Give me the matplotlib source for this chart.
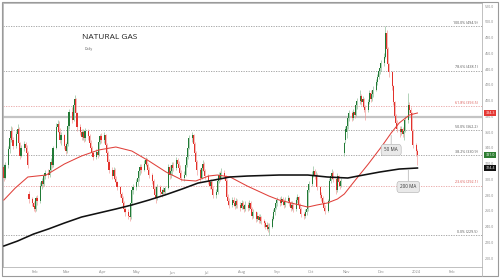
import matplotlib
matplotlib.use("Agg")
import matplotlib.pyplot as plt
import matplotlib.dates as mdates
import matplotlib.transforms as mtransforms
from matplotlib.patches import Rectangle
from matplotlib.lines import Line2D
import numpy as np
import pandas as pd

plt.rcParams['font.family'] = ['Open Sans', 'DejaVu Sans']

# ---------------- data ----------------
dates = pd.bdate_range("2023-01-05", "2024-01-02")

opens = [
    316,302,318,338,352,362,350,342,358,364,346,330,340,345,340,334,282,275,270,  # Jan
    266,262,276,272,292,298,294,304,308,305,312,322,318,340,366,370,360,350,356,342,  # Feb
    336,345,368,386,376,394,402,384,366,360,354,360,352,361,355,346,340,333,329,335,331,348,355,  # Mar
    350,356,344,334,322,312,304,312,300,296,290,282,276,270,262,258,254,252,270,286,  # Apr
    290,296,302,310,316,312,320,325,318,312,306,298,288,280,276,290,284,282,286,284,289,316,305,  # May
    310,318,315,324,320,314,308,302,306,318,328,340,352,356,345,334,322,312,302,315,320,310,  # Jun
    304,298,292,296,288,280,284,298,305,302,308,304,298,278,272,268,274,270,266,272,268,  # Jul
    264,270,266,262,268,264,270,262,254,258,250,254,248,252,247,244,240,242,237,240,250,258,264,  # Aug
    270,274,270,275,271,268,273,276,270,264,268,262,274,277,268,262,256,253,258,262,286,  # Sep
    294,306,310,304,306,290,280,276,270,264,260,272,298,304,308,300,286,304,296,292,334,350,  # Oct
    360,368,378,384,378,386,382,394,400,406,398,402,392,388,398,410,402,408,414,424,430,438,  # Nov
    442,448,456,486,466,446,436,418,398,380,372,364,360,364,358,362,376,394,388,384,362,344,336,  # Dec/Jan
]
highs = [
    320,322,342,356,368,366,354,362,370,366,348,344,349,348,344,336,285,278,272,
    270,279,280,296,302,301,308,312,313,316,327,326,343,372,376,374,365,360,358,348,
    349,372,390,392,398,407,404,386,370,364,364,362,365,364,357,350,342,336,339,338,352,358,359,
    360,358,346,336,326,316,316,314,304,298,292,284,279,272,265,262,257,274,290,294,
    300,306,314,320,319,324,329,327,321,316,308,300,292,284,294,293,288,290,289,292,320,318,314,
    322,322,328,327,323,318,312,310,322,332,344,356,360,358,348,336,325,314,319,324,322,313,
    307,301,300,298,291,288,302,309,310,314,312,306,300,281,276,278,278,273,276,275,271,
    274,273,269,272,271,274,272,265,262,260,258,256,256,254,250,247,246,245,244,254,262,268,274,
    278,277,279,278,275,277,280,278,272,272,270,278,281,279,270,265,259,262,265,290,298,
    310,317,313,311,308,292,284,279,273,267,275,302,308,313,310,302,308,306,299,302,348,368,
    372,382,388,387,390,389,398,404,414,409,406,404,395,402,414,413,412,418,428,434,442,446,
    452,460,494.9,490,468,448,438,420,400,383,376,368,368,367,366,380,410,398,392,386,364,346,338,
]
lows = [
    298,300,315,334,348,346,338,340,354,342,326,328,336,336,330,315,270,266,260,
    258,260,268,270,288,290,292,300,302,303,310,314,316,338,360,356,346,344,338,332,
    333,343,364,372,374,390,380,362,356,350,350,348,349,350,342,336,330,325,326,327,330,345,346,
    346,340,330,318,308,300,300,296,292,286,278,272,266,258,254,250,247,250,268,282,
    286,292,298,306,308,310,317,314,308,302,294,284,276,270,274,280,278,280,281,282,288,300,302,
    306,311,312,316,310,304,298,298,304,316,326,338,348,341,330,318,306,296,300,310,306,300,
    294,288,288,284,276,276,282,295,298,300,300,294,274,268,264,265,266,262,264,264,260,
    262,262,258,260,260,261,258,250,251,246,247,244,245,243,240,237,236,233,229.5,238,248,255,262,
    266,266,267,267,264,265,270,266,260,261,258,260,270,264,258,252,249,251,255,260,284,
    292,303,300,300,286,276,272,266,260,256,258,270,295,300,296,282,284,292,288,290,330,346,
    352,364,374,374,375,378,380,390,396,394,392,386,375,386,396,398,400,405,412,420,428,434,
    438,444,454,462,442,430,414,394,376,366,360,354,356,354,350,360,372,384,378,358,340,330,318,
]
closes = [
    302,318,338,352,362,350,342,358,364,346,330,340,345,340,334,318,275,270,265,
    262,276,272,292,298,294,304,308,305,312,322,318,340,366,370,360,350,356,342,336,
    345,368,386,376,394,402,384,366,360,354,360,352,361,355,346,340,333,329,335,331,348,355,350,
    356,344,334,322,312,304,312,300,296,290,282,276,270,262,258,254,252,270,286,290,
    296,302,310,316,312,320,325,318,312,306,298,288,280,276,290,284,282,286,284,289,316,305,310,
    318,315,324,320,314,308,302,306,318,328,340,352,356,345,334,322,312,302,315,320,310,304,
    298,292,296,288,280,284,298,305,302,308,304,298,278,272,268,274,270,266,272,268,264,
    270,266,262,268,264,270,262,254,258,250,254,248,252,247,244,240,242,237,240,250,258,264,270,
    274,270,275,271,268,273,276,270,264,268,262,274,277,268,262,256,253,258,262,286,294,
    306,310,304,306,290,280,276,270,264,260,272,298,304,308,300,286,304,296,292,298,346,364,
    368,378,384,378,386,382,394,400,406,398,402,392,388,398,410,402,408,414,424,430,438,442,
    448,456,486,466,446,436,418,398,380,372,364,360,364,358,362,376,394,388,384,362,344,336,331,
]

ma50_dates = ["2023-01-05","2023-01-15","2023-01-26","2023-02-11","2023-02-27","2023-03-14",
              "2023-03-29","2023-04-13","2023-04-27","2023-05-12","2023-05-27","2023-06-10",
              "2023-06-22","2023-07-03","2023-07-11","2023-07-22","2023-08-06","2023-08-25",
              "2023-09-03","2023-09-17","2023-09-28","2023-10-06","2023-10-15","2023-10-24",
              "2023-10-30","2023-11-08","2023-11-20","2023-12-02","2023-12-10","2023-12-17",
              "2023-12-26","2024-01-02"]
ma50 = [273.7,289.0,303.0,305.5,319.5,329.7,337.3,341.1,336.0,323.3,309.3,299.2,
        297.9,304.2,305.5,303.0,291.5,278.8,273.7,268.7,264.8,267.4,269.9,275.0,
        281.4,297.9,319.5,342.4,358.9,371.6,381.8,384.3]

ma200_dates = ["2023-01-05","2023-01-17","2023-01-31","2023-02-13","2023-02-27","2023-03-14",
               "2023-03-29","2023-04-13","2023-04-27","2023-05-12","2023-05-26","2023-06-10",
               "2023-06-24","2023-07-08","2023-07-22","2023-08-06","2023-09-03","2023-09-28",
               "2023-10-15","2023-11-02","2023-11-11","2023-11-30","2023-12-17","2024-01-02"]
ma200 = [215.3,221.6,230.5,236.9,244.5,252.1,257.2,262.3,267.4,273.7,280.1,287.7,
         295.3,299.1,303.0,304.2,305.5,305.5,303.0,301.7,304.2,309.3,313.1,314.4]

fib_pcts = [0.0, 23.6, 38.2, 50.0, 61.8, 78.6, 100.0]
fib_vals = [229.5, 292.1, 330.9, 362.2, 393.5, 438.1, 494.9]
resistance = 379.2

month_ticks = ["2023-02-01","2023-03-01","2023-04-01","2023-05-01","2023-06-01","2023-07-01",
               "2023-08-01","2023-09-01","2023-10-01","2023-11-01","2023-12-01","2024-01-01",
               "2024-02-01"]
month_labels = ["Feb","Mar","Apr","May","Jun","Jul","Aug","Sep","Oct","Nov","Dec","2024","Feb"]

# ---------------- figure ----------------
W, H = 500, 280
fig = plt.figure(figsize=(5, 2.8), dpi=100)
fig.patch.set_facecolor("white")
ax = fig.add_axes([3 / W, 13 / H, 479 / W, 264 / H])

x = mdates.date2num(dates)
o = np.array(opens, float); h = np.array(highs, float)
l = np.array(lows, float); c = np.array(closes, float)
up = c >= o
col = np.where(up, "#217a36", "#e2322c")
wick_col = np.where(up, "#86ba91", "#f09592")

ax.vlines(x, l, h, colors=wick_col, lw=0.45, zorder=3)
body_h = np.maximum(np.abs(c - o), 0.8)
ax.bar(x, body_h, bottom=np.minimum(o, c), width=0.95, color=col, linewidth=0, zorder=4)

# moving averages
ax.plot(mdates.date2num(pd.to_datetime(ma50_dates)), ma50, color="#e0403a", lw=0.75, zorder=5)
ax.plot(mdates.date2num(pd.to_datetime(ma200_dates)), ma200, color="#111111", lw=1.15, zorder=5)

# resistance line
ax.axhline(resistance, color="#c4c4c4", lw=1.6, zorder=2)

# fibonacci levels
blend = mtransforms.blended_transform_factory(ax.transAxes, ax.transData)
for p, v in zip(fib_pcts, fib_vals):
    red = p in (23.6, 61.8)
    lc = "#e8a0a0" if red else "#9a9a9a"
    tc = "#d9534f" if red else "#555555"
    ax.axhline(v, color=lc, lw=0.6, ls=(0, (1.5, 1.5)), zorder=1)
    ax.text(0.9916, v + 1.6, f"{p:.1f}% ({v:.1f})", transform=blend, ha="right", va="bottom",
            fontsize=2.6, color=tc)

# axes styling
ax.set_xlim(mdates.date2num(pd.Timestamp("2023-01-04 06:00")),
            mdates.date2num(pd.Timestamp("2024-02-27 12:00")))
ax.set_ylim(188.6, 524.1)
ax.yaxis.tick_right()
ax.set_yticks(np.arange(200, 521, 20))
ax.set_yticklabels([f"{v:.1f}" for v in np.arange(200, 521, 20)])
ax.set_xticks(mdates.date2num(pd.to_datetime(month_ticks)))
ax.set_xticklabels(month_labels)
ax.tick_params(axis="y", length=0, pad=2, labelsize=2.6, colors="#888888")
ax.tick_params(axis="x", length=0, pad=2.2, labelsize=2.8, colors="#888888")
for s in ax.spines.values():
    s.set_color("#b5b5b5")
    s.set_linewidth(0.6)

# right-axis extension and outer frame
fig.add_artist(Line2D([482 / W, 482 / W], [4 / H, 13 / H], transform=fig.transFigure,
                      color="#b5b5b5", lw=0.6))
fig.add_artist(Rectangle((2 / W, 4 / H), 496 / W, 274 / H, transform=fig.transFigure,
                         fill=False, ec="#9a9a9a", lw=0.8))

# price tags on right axis
tags = [(ma50[-1], "#e53935"), (closes[-1], "#2e7d32"), (ma200[-1], "#111111")]
for val, fc in tags:
    ax.text(1.0175, val, f"{val:.1f}", transform=blend, ha="center", va="center",
            fontsize=2.6, color="white", clip_on=False, zorder=10,
            bbox=dict(boxstyle="square,pad=0.35", fc=fc, ec="none"))

# callouts
def callout(txt, box_date, box_val, pt_val):
    bx = mdates.date2num(pd.Timestamp(box_date))
    ax.annotate(txt, xy=(bx, pt_val), xytext=(bx, box_val), ha="center", va="center",
                fontsize=3.3, color="#333333", zorder=8,
                bbox=dict(boxstyle="round,pad=0.7", fc="#e9e9e9", ec="#b0b0b0", lw=0.4),
                arrowprops=dict(arrowstyle="-", color="#b0b0b0", lw=0.5, shrinkA=0, shrinkB=0))

callout("50 MA", "2023-12-10", 337.3, 356.0)
callout("200 MA", "2023-12-25", 290.3, 312.5)

# titles
ax.text(0.165, 0.871, "NATURAL GAS", transform=ax.transAxes, ha="left", va="center",
        fontsize=6.0, color="#222222")
ax.text(0.171, 0.826, "Daily", transform=ax.transAxes, ha="left", va="center",
        fontsize=2.5, color="#555555")

fig.savefig("out.png", dpi=100, facecolor="white")
